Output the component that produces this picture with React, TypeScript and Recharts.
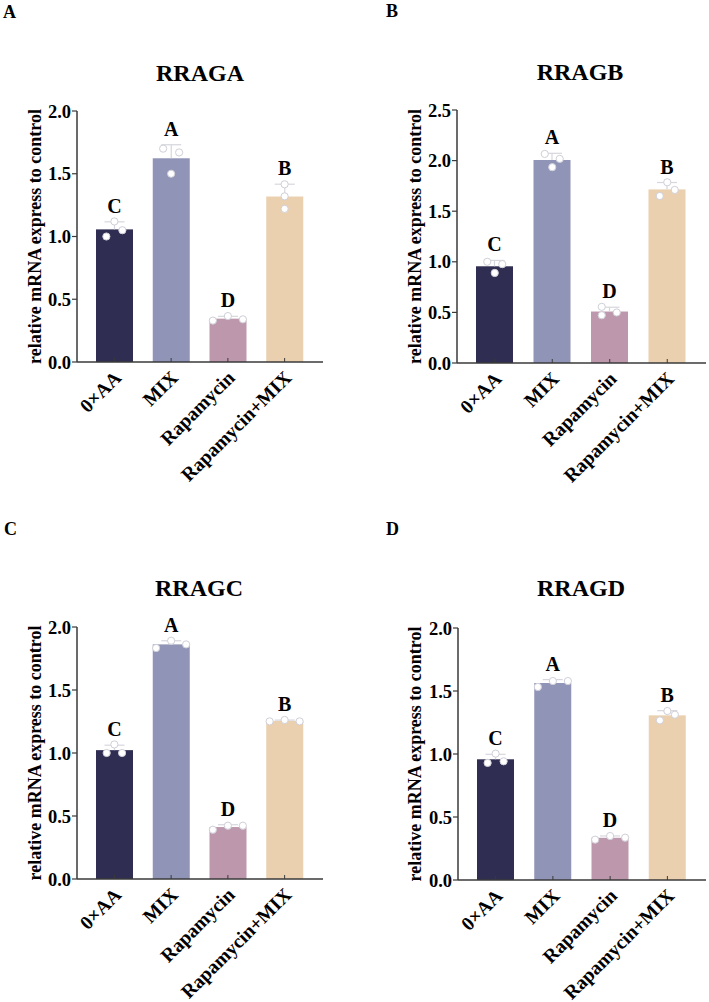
import React from 'react'
import {
  ComposedChart,
  Bar,
  Scatter,
  XAxis,
  YAxis,
} from 'recharts'

const CATEGORIES = ['0×AA', 'MIX', 'Rapamycin', 'Rapamycin+MIX']
const GROUP_LETTERS = ['C', 'A', 'D', 'B']
const BAR_COLORS = ['#2f2d52', '#9094b6', '#bd98ac', '#ead0ae']

// replicate measurements (three per group)
const RRAGA_POINTS = [
  [1.0, 1.12, 1.05],
  [1.7, 1.5, 1.67],
  [0.33, 0.366, 0.34],
  [1.416, 1.32, 1.22],
]
const RRAGB_POINTS = [
  [1.0, 0.89, 0.977],
  [2.066, 1.935, 2.017],
  [0.555, 0.472, 0.499],
  [1.65, 1.786, 1.71],
]
const RRAGC_POINTS = [
  [1.0, 1.068, 1.0],
  [1.833, 1.891, 1.862],
  [0.391, 0.423, 0.423],
  [1.251, 1.262, 1.251],
]
const RRAGD_POINTS = [
  [0.929, 1.003, 0.942],
  [1.532, 1.579, 1.579],
  [0.32, 0.349, 0.336],
  [1.267, 1.341, 1.312],
]

const TICKS_2 = [0, 0.5, 1.0, 1.5, 2.0]
const TICKS_25 = [0, 0.5, 1.0, 1.5, 2.0, 2.5]

const FONT = 'Liberation Serif, DejaVu Serif, serif'
const AXIS_COLOR = '#3a3a3a'
const WHISKER = '#d6d6de'

// horizontal spread of the dots inside each bar, px
const JITTER_A = [[-8, 0, 8], [-8, 0, 8], [-15, 0, 15], [0, 0, 0]]
const JITTER_B = [[-7.5, 0, 7.5], [-7.5, 0, 7.5], [-8, -8, 7], [-7.5, 0, 7.5]]
const JITTER_C = [[-7.7, 0, 7.7], [-15, 0, 15], [-15, 0, 15], [-15, 0, 15]]
const JITTER_D = [[-8, 0, 8], [-15, 0, 15], [-15, 0, 15], [-7.5, 0, 7.5]]

const buildRows = (points: number[][]) =>
  CATEGORIES.map((name, i) => {
    const vals = points[i]
    const mean = vals.reduce((a, b) => a + b, 0) / vals.length
    const sd = Math.sqrt(
      vals.reduce((a, b) => a + (b - mean) ** 2, 0) / (vals.length - 1)
    )
    return {
      name,
      idx: i,
      mean,
      sd,
      p1: vals[0],
      p2: vals[1],
      p3: vals[2],
      letter: GROUP_LETTERS[i],
    }
  })

const BarWithError = (props: any) => {
  const { x, y, width, height, payload, value } = props
  const v = Array.isArray(value) ? value[1] - value[0] : value
  const perUnit = v ? height / v : 0
  const cx = x + width / 2
  const top = y - payload.sd * perUnit
  return (
    <g>
      <rect x={x} y={y} width={width} height={height} fill={BAR_COLORS[payload.idx]} />
      <line x1={cx} x2={cx} y1={y} y2={top} stroke={WHISKER} strokeWidth={1.2} />
      <line x1={cx - 10} x2={cx + 10} y1={top} y2={top} stroke={WHISKER} strokeWidth={1.2} />
      <text
        x={cx}
        y={top - 9}
        textAnchor='middle'
        fontFamily={FONT}
        fontWeight='bold'
        fontSize={20}
        fill='#000'>
        {payload.letter}
      </text>
    </g>
  )
}

const makeDot = (jitter: number[][], slot: number) => (props: any) => {
  const { cx, cy, payload } = props
  if (cx == null || cy == null) return <g />
  return (
    <circle
      cx={cx + jitter[payload.idx][slot]}
      cy={cy}
      r={3.6}
      fill='#fff'
      stroke='#cfcfd8'
      strokeWidth={1}
    />
  )
}

// rotated category label plus a short tick pointing up into the plot
const CategoryTick = (props: any) => {
  const { x, y, payload } = props
  return (
    <g>
      <line x1={x} x2={x} y1={y} y2={y - 4} stroke={AXIS_COLOR} strokeWidth={1} />
      <g transform={`translate(${x + 8},${y + 17})`}>
        <text
          transform='rotate(-45)'
          textAnchor='end'
          fontFamily={FONT}
          fontWeight='bold'
          fontSize={19.5}
          fill='#000'>
          {payload.value}
        </text>
      </g>
    </g>
  )
}

const AxisTitle = (props: any) => {
  const { viewBox, cx } = props
  const x = cx
  const y = viewBox.y + viewBox.height / 2
  return (
    <text
      x={x}
      y={y}
      transform={`rotate(-90, ${x}, ${y})`}
      textAnchor='middle'
      fontFamily={FONT}
      fontWeight='bold'
      fontSize={18}
      fill='#000'>
      relative mRNA express to control
    </text>
  )
}

type PanelProps = {
  letter: string
  title: string
  points: number[][]
  jitter: number[][]
  ticks: number[]
  left: number
  top: number
  plotTop: number
  plotBottom: number
  axisWidth: number
  width: number
  rightPad: number
  titleX: number
  titleY: number
  letterX: number
  letterY: number
}

const Panel: React.FC<PanelProps> = (p) => {
  const rows = buildRows(p.points)
  const xAxisHeight = 130
  const height = p.plotBottom - p.top + xAxisHeight
  return (
    <>
      <div
        style={{
          position: 'absolute',
          left: p.letterX,
          top: p.letterY - 16,
          fontFamily: FONT,
          fontWeight: 'bold',
          fontSize: 18,
          lineHeight: '20px',
        }}>
        {p.letter}
      </div>
      <div
        style={{
          position: 'absolute',
          left: p.titleX - 100,
          width: 200,
          textAlign: 'center',
          top: p.titleY - 21,
          fontFamily: FONT,
          fontWeight: 'bold',
          fontSize: 24,
          lineHeight: '26px',
        }}>
        {p.title}
      </div>
      <div style={{ position: 'absolute', left: p.left, top: p.top }}>
        <ComposedChart
          width={p.width}
          height={height}
          data={rows}
          margin={{ top: p.plotTop - p.top, right: p.rightPad, bottom: 0, left: 0 }}>
          <XAxis
            dataKey='name'
            type='category'
            height={xAxisHeight}
            padding={{ left: 9, right: 10 }}
            axisLine={{ stroke: AXIS_COLOR, strokeWidth: 1.5 }}
            tickLine={false}
            tickSize={0}
            tickMargin={0}
            interval={0}
            tick={<CategoryTick />}
          />
          <YAxis
            type='number'
            domain={[p.ticks[0], p.ticks[p.ticks.length - 1]]}
            ticks={p.ticks}
            width={p.axisWidth}
            axisLine={{ stroke: AXIS_COLOR, strokeWidth: 1.5 }}
            tickLine={{ stroke: AXIS_COLOR, strokeWidth: 1.2 }}
            tickSize={5}
            tickMargin={1}
            tickFormatter={(v: number) => v.toFixed(1)}
            tick={{ fontFamily: FONT, fontWeight: 'bold', fontSize: 18.5, fill: '#000' }}
            label={<AxisTitle cx={41} />}
          />
          <Bar
            dataKey='mean'
            barSize={37}
            shape={<BarWithError />}
            isAnimationActive={false}
          />
          <Scatter dataKey='p1' shape={makeDot(p.jitter, 0)} isAnimationActive={false} />
          <Scatter dataKey='p2' shape={makeDot(p.jitter, 1)} isAnimationActive={false} />
          <Scatter dataKey='p3' shape={makeDot(p.jitter, 2)} isAnimationActive={false} />
        </ComposedChart>
      </div>
    </>
  )
}

export default function App() {
  return (
    <div
      style={{
        position: 'absolute',
        left: 0,
        top: 0,
        width: 709,
        height: 1002,
        background: '#fff',
        overflow: 'hidden',
      }}>
      <Panel
        letter='A' title='RRAGA' points={RRAGA_POINTS} jitter={JITTER_A} ticks={TICKS_2}
        left={0} top={0} plotTop={111} plotBottom={362} axisWidth={77} width={330} rightPad={7}
        titleX={200} titleY={81} letterX={3} letterY={18}
      />
      <Panel
        letter='B' title='RRAGB' points={RRAGB_POINTS} jitter={JITTER_B} ticks={TICKS_25}
        left={380} top={0} plotTop={110} plotBottom={363} axisWidth={77} width={329} rightPad={3}
        titleX={580} titleY={80} letterX={386} letterY={17}
      />
      <Panel
        letter='C' title='RRAGC' points={RRAGC_POINTS} jitter={JITTER_C} ticks={TICKS_2}
        left={0} top={500} plotTop={627} plotBottom={879} axisWidth={77} width={330} rightPad={7}
        titleX={199} titleY={596} letterX={4} letterY={535}
      />
      <Panel
        letter='D' title='RRAGD' points={RRAGD_POINTS} jitter={JITTER_D} ticks={TICKS_2}
        left={380} top={500} plotTop={628} plotBottom={880} axisWidth={78} width={329} rightPad={3}
        titleX={581} titleY={596} letterX={386} letterY={535}
      />
    </div>
  )
}
